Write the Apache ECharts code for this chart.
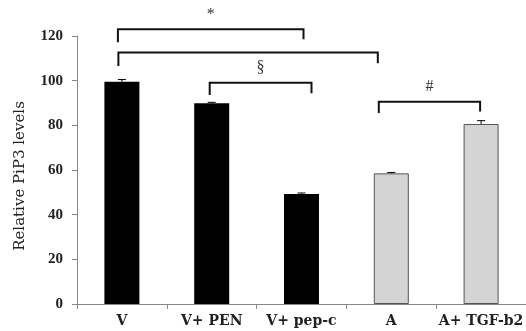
<!DOCTYPE html>
<html>
<head>
<meta charset="utf-8">
<script src="https://cdn.jsdelivr.net/npm/echarts@6/dist/echarts.min.js"></script>
<style>
html,body{margin:0;padding:0;background:#fff;}
#chart{width:526px;height:331px;}
</style>
</head>
<body>
<div id="chart"></div>
<script>
// data
var categories = ['V', 'V+ PEN', 'V+ pep-c', 'A', 'A+ TGF-b2'];
var values = [99.5, 89.9, 49.3, 58.5, 80.6];
var errors = [1.0, 0.4, 0.4, 0.4, 1.5];
var groups = ['V', 'V', 'V', 'A', 'A'];
var yTicks = [0, 20, 40, 60, 80, 100, 120];
var yTitle = 'Relative PiP3 levels';

// significance brackets
var brFrom = [0, 0, 1, 3];
var brTo = [2, 3, 2, 4];
var brTop = [123, 112.6, 99.1, 90.6];
var brLegL = [117.2, 106.6, 93.6, 85.5];
var brLegR = [118.5, 107.8, 94.4, 86.2];
var brMark = ['*', '', '§', '#'];
var brOffL = [-4, -3.5, -2, -12.5];
var brOffR = [2, -13.5, 10, -1];

var serif = '"Liberation Serif","Times New Roman",serif';
var wideSerif = '"DejaVu Serif",serif';
var groupStyle = {
	V: {color: '#000', borderColor: '#000', borderWidth: 0},
	A: {color: '#d4d4d4', borderColor: '#555', borderWidth: 1}
};

var barData = [];
for (var i = 0; i < values.length; i++) {
	barData.push({value: values[i], itemStyle: groupStyle[groups[i]]});
}
var errData = [];
for (var i = 0; i < values.length; i++) {
	errData.push([i, values[i], errors[i]]);
}
var brData = [];
for (var i = 0; i < brFrom.length; i++) {
	brData.push([brFrom[i], brTo[i], brTop[i], brLegL[i], brLegR[i], i]);
}

var chart = echarts.init(document.getElementById('chart'));
var option = {
	animation: false,
	grid: {left: 77, right: -6, top: 36, bottom: 27},
	graphic: [{
		type: 'text', x: 20, y: 176, rotation: Math.PI / 2,
		style: {text: yTitle, fill: '#222', font: '15px ' + wideSerif, align: 'center', verticalAlign: 'middle'}
	}],
	xAxis: {
		type: 'category',
		data: categories,
		axisLine: {lineStyle: {color: '#888', width: 1}},
		axisTick: {show: true, length: 5, lineStyle: {color: '#888'}},
		axisLabel: {color: '#222', fontFamily: wideSerif, fontWeight: 'bold', fontSize: 14, margin: 10,
			interval: 0, hideOverlap: false}
	},
	yAxis: {
		type: 'value',
		min: 0, max: 120, interval: 20,
		axisLine: {show: true, lineStyle: {color: '#888', width: 1}},
		axisTick: {show: true, length: 5, lineStyle: {color: '#888'}},
		axisLabel: {color: '#222', fontFamily: serif, fontWeight: 'bold', fontSize: 15, margin: 14,
			formatter: function(v){ return yTicks.indexOf(v) >= 0 ? String(v) : ''; }},
		splitLine: {show: false}
	},
	series: [
		{
			type: 'bar',
			data: barData,
			barWidth: 35
		},
		{
			type: 'custom',
			data: errData,
			z: 5,
			renderItem: function(params, api){
				var x = api.coord([api.value(0), 0])[0];
				var p0 = api.coord([api.value(0), api.value(1)]);
				var p1 = api.coord([api.value(0), api.value(1) + api.value(2)]);
				var st = {stroke: '#000', lineWidth: 1};
				return {type: 'group', children: [
					{type: 'line', shape: {x1: x, y1: p0[1], x2: x, y2: p1[1]}, style: st},
					{type: 'line', shape: {x1: x - 4, y1: p1[1], x2: x + 4, y2: p1[1]}, style: st}
				]};
			}
		},
		{
			type: 'custom',
			data: brData,
			clip: false,
			z: 6,
			renderItem: function(params, api){
				var k = api.value(5);
				var xl = api.coord([api.value(0), 0])[0] + brOffL[k];
				var xr = api.coord([api.value(1), 0])[0] + brOffR[k];
				var yt = api.coord([0, api.value(2)])[1];
				var yl = api.coord([0, api.value(3)])[1];
				var yr = api.coord([0, api.value(4)])[1];
				var st = {stroke: '#111', lineWidth: 2, fill: null};
				var kids = [
					{type: 'polyline', shape: {points: [[xl, yl], [xl, yt], [xr, yt], [xr, yr]]}, style: st}
				];
				if (brMark[k]) {
					kids.push({type: 'text', x: (xl + xr) / 2, y: yt - 15,
						style: {text: brMark[k], fill: '#333', font: '16px ' + serif, align: 'center', verticalAlign: 'middle'}});
				}
				return {type: 'group', children: kids};
			}
		}
	]
};
chart.setOption(option);
</script>
</body>
</html>
